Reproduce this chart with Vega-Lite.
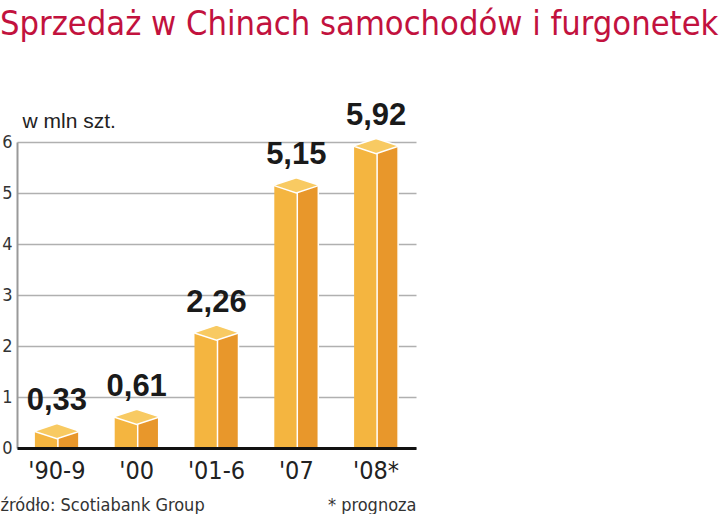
{
  "$schema": "https://vega.github.io/schema/vega-lite/v6.json",
  "autosize": "none",
  "width": 399,
  "height": 306,
  "padding": {"left": 17, "top": 142, "right": 304, "bottom": 66},
  "background": "white",
  "config": {"view": {"stroke": null}},
  "title": {
    "text": "Sprzedaż w Chinach samochodów i furgonetek",
    "anchor": "start",
    "frame": "group",
    "dx": -17,
    "offset": 31,
    "baseline": "alphabetic",
    "font": "Liberation Sans Narrow, DejaVu Sans Condensed, sans-serif",
    "fontSize": 34.2,
    "fontWeight": "normal",
    "color": "#C2123E"
  },
  "data": {
    "values": [
      {"okres": "'90-9", "wartosc": 0.33, "etykieta": "0,33"},
      {"okres": "'00", "wartosc": 0.61, "etykieta": "0,61"},
      {"okres": "'01-6", "wartosc": 2.26, "etykieta": "2,26"},
      {"okres": "'07", "wartosc": 5.15, "etykieta": "5,15"},
      {"okres": "'08*", "wartosc": 5.92, "etykieta": "5,92"}
    ]
  },
  "encoding": {
    "x": {"field": "okres", "type": "nominal", "sort": null, "axis": null,
      "scale": {"paddingInner": 0, "paddingOuter": 0}},
    "y": {"field": "wartosc", "type": "quantitative",
      "scale": {"domain": [0, 6], "nice": false}}
  },
  "layer": [
    {
      "mark": {"type": "bar", "size": 44, "color": "#F4B540"},
      "encoding": {
        "x": {"field": "okres", "type": "nominal", "sort": null,
          "axis": {
            "orient": "bottom",
            "zindex": 1,
            "domainColor": "#111111",
            "domainWidth": 3,
            "ticks": false,
            "labelAngle": 0,
            "labelFont": "Liberation Sans Narrow, DejaVu Sans Condensed, sans-serif",
            "labelFontSize": 25,
            "labelColor": "#222222",
            "labelPadding": 10,
            "title": "źródło: Scotiabank Group",
            "titleFont": "Liberation Sans Narrow, DejaVu Sans Condensed, sans-serif",
            "titleFontSize": 18,
            "titleFontWeight": "normal",
            "titleColor": "#333333",
            "titleAnchor": "start",
            "titleAlign": "left",
            "titleBaseline": "alphabetic",
            "titleX": -17,
            "titleY": 62
          }
        },
        "y": {"field": "wartosc", "type": "quantitative",
          "axis": {
            "values": [0, 1, 2, 3, 4, 5, 6],
            "domainColor": "#999999",
            "domainWidth": 2,
            "gridColor": "#b0b0b0",
            "gridWidth": 1.5,
            "ticks": false,
            "labelFont": "Liberation Sans Narrow, DejaVu Sans Condensed, sans-serif",
            "labelFontSize": 18,
            "labelColor": "#333333",
            "labelPadding": 5,
            "title": "w mln szt.",
            "titleAngle": 0,
            "titleAlign": "left",
            "titleBaseline": "alphabetic",
            "titleX": 5,
            "titleY": -15,
            "titleFont": "Liberation Sans, Arial, sans-serif",
            "titleFontSize": 21,
            "titleFontWeight": "normal",
            "titleColor": "#222222"
          }
        }
      }
    },
    {
      "mark": {"type": "bar", "size": 21, "xOffset": 11.5, "color": "#E8972B", "stroke": "white", "strokeWidth": 1.5},
      "encoding": {
        "x": {"field": "okres", "type": "nominal", "sort": null,
          "axis": {
            "orient": "bottom",
            "labels": false,
            "ticks": false,
            "domain": false,
            "grid": false,
            "title": "* prognoza",
            "titleFont": "Liberation Sans Narrow, DejaVu Sans Condensed, sans-serif",
            "titleFontSize": 18,
            "titleFontWeight": "normal",
            "titleColor": "#333333",
            "titleAnchor": "end",
            "titleAlign": "right",
            "titleBaseline": "alphabetic",
            "titleX": 399,
            "titleY": 62
          }
        }
      }
    },
    {
      "mark": {"type": "point", "shape": "M-1,0L0,-0.33L1,0L0,0.33Z", "size": 2116, "filled": true, "color": "#F8CA62", "stroke": "white", "strokeWidth": 1.5, "opacity": 1}
    },
    {
      "mark": {"type": "text", "baseline": "alphabetic", "dy": -21, "font": "Liberation Sans, Arial, sans-serif", "fontSize": 31, "fontWeight": "bold", "color": "#1a1a1a"},
      "encoding": {"text": {"field": "etykieta"}}
    }
  ],
  "resolve": {"axis": {"x": "independent"}}
}
